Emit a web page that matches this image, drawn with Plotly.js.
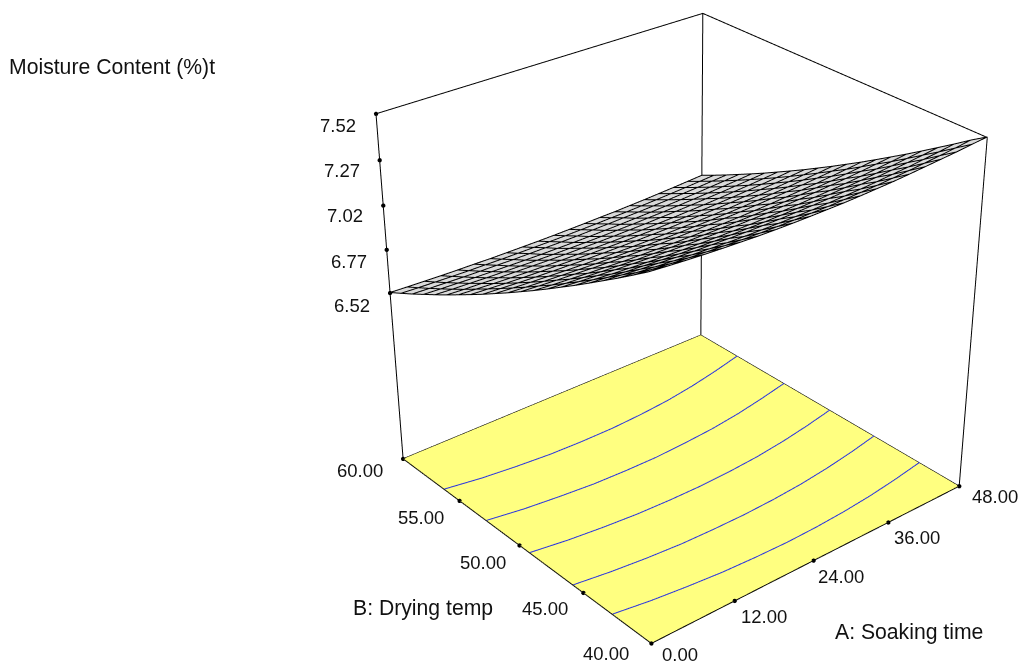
<!DOCTYPE html>
<html><head><script src="https://cdn.plot.ly/plotly-3.0.1.min.js"></script>
<style>html,body{margin:0;padding:0;overflow:hidden;background:#fff;width:1018px;height:663px}#g{position:absolute}</style></head>
<body><div id="g"></div>
<script>
var soaking=[0,2.4,4.8,7.2,9.6,12,14.4,16.8,19.2,21.6,24,26.4,28.8,31.2,33.6,36,38.4,40.8,43.2,45.6,48];
var drying=[40,41,42,43,44,45,46,47,48,49,50,51,52,53,54,55,56,57,58,59,60];
var z40=[7.500,7.492,7.485,7.479,7.474,7.470,7.466,7.464,7.463,7.463,7.464,7.465,7.468,7.472,7.476,7.482,7.489,7.496,7.503,7.512,7.520];
var z41=[7.441,7.433,7.426,7.420,7.415,7.411,7.407,7.405,7.404,7.404,7.405,7.406,7.409,7.413,7.417,7.423,7.430,7.437,7.446,7.455,7.466];
var z42=[7.383,7.375,7.368,7.362,7.357,7.353,7.349,7.347,7.346,7.346,7.347,7.348,7.351,7.355,7.359,7.365,7.372,7.379,7.388,7.397,7.408];
var z43=[7.327,7.320,7.313,7.308,7.303,7.299,7.297,7.295,7.294,7.294,7.294,7.296,7.299,7.302,7.307,7.312,7.318,7.325,7.333,7.342,7.352];
var z44=[7.271,7.264,7.257,7.252,7.247,7.243,7.241,7.239,7.238,7.238,7.238,7.240,7.243,7.246,7.251,7.256,7.262,7.269,7.277,7.286,7.296];
var z45=[7.216,7.209,7.202,7.197,7.192,7.188,7.186,7.184,7.183,7.183,7.183,7.185,7.188,7.191,7.196,7.201,7.207,7.214,7.222,7.231,7.241];
var z46=[7.163,7.156,7.151,7.146,7.142,7.138,7.136,7.134,7.133,7.133,7.134,7.136,7.138,7.142,7.146,7.151,7.157,7.163,7.171,7.179,7.188];
var z47=[7.110,7.103,7.098,7.093,7.089,7.085,7.083,7.081,7.080,7.080,7.081,7.083,7.085,7.089,7.093,7.098,7.104,7.110,7.118,7.126,7.135];
var z48=[7.058,7.051,7.046,7.041,7.037,7.033,7.031,7.029,7.028,7.028,7.029,7.031,7.033,7.037,7.041,7.046,7.052,7.058,7.066,7.074,7.083];
var z49=[7.008,7.002,6.997,6.993,6.989,6.986,6.984,6.983,6.982,6.982,6.983,6.985,6.987,6.990,6.994,6.999,7.004,7.010,7.017,7.025,7.033];
var z50=[6.958,6.952,6.947,6.943,6.939,6.936,6.934,6.933,6.932,6.932,6.933,6.935,6.937,6.940,6.944,6.949,6.954,6.960,6.967,6.975,6.983];
var z51=[6.910,6.904,6.899,6.895,6.891,6.888,6.886,6.885,6.884,6.884,6.885,6.887,6.889,6.892,6.896,6.901,6.906,6.912,6.919,6.927,6.935];
var z52=[6.862,6.857,6.852,6.848,6.845,6.843,6.841,6.840,6.840,6.840,6.841,6.842,6.845,6.847,6.851,6.855,6.860,6.866,6.872,6.879,6.887];
var z53=[6.816,6.811,6.806,6.802,6.799,6.797,6.795,6.794,6.794,6.794,6.795,6.796,6.799,6.801,6.805,6.809,6.814,6.820,6.826,6.833,6.841];
var z54=[6.771,6.766,6.761,6.757,6.754,6.752,6.750,6.749,6.749,6.749,6.750,6.751,6.754,6.756,6.760,6.764,6.769,6.775,6.781,6.788,6.796];
var z55=[6.726,6.721,6.718,6.714,6.712,6.710,6.708,6.707,6.707,6.707,6.708,6.710,6.712,6.715,6.718,6.722,6.727,6.732,6.738,6.744,6.751];
var z56=[6.683,6.678,6.675,6.671,6.669,6.667,6.665,6.664,6.664,6.664,6.665,6.667,6.669,6.672,6.675,6.679,6.684,6.689,6.695,6.701,6.708];
var z57=[6.641,6.636,6.633,6.629,6.627,6.625,6.623,6.622,6.622,6.622,6.623,6.625,6.627,6.630,6.633,6.637,6.642,6.647,6.653,6.659,6.666];
var z58=[6.599,6.595,6.592,6.589,6.587,6.586,6.584,6.584,6.584,6.584,6.585,6.587,6.589,6.592,6.594,6.598,6.602,6.607,6.612,6.618,6.624];
var z59=[6.559,6.555,6.552,6.549,6.547,6.546,6.544,6.544,6.544,6.544,6.545,6.547,6.549,6.552,6.554,6.558,6.562,6.567,6.572,6.578,6.584];
var z60=[6.520,6.516,6.513,6.510,6.508,6.507,6.505,6.505,6.505,6.505,6.506,6.508,6.510,6.513,6.515,6.519,6.523,6.528,6.533,6.539,6.545];
var Z=[z40,z41,z42,z43,z44,z45,z46,z47,z48,z49,z50,z51,z52,z53,z54,z55,z56,z57,z58,z59,z60];
var contourA=[0,4.8,9.6,14.4,19.2,24,28.8,33.6,38.4,43.2,48];
var contourB1=[56.30,55.92,55.67,55.48,55.41,55.41,55.52,55.71,56.02,56.42,56.89];
var contourB2=[52.70,52.33,52.08,51.88,51.80,51.78,51.88,52.03,52.29,52.64,53.05];
var contourB3=[49.16,48.82,48.58,48.40,48.32,48.30,48.37,48.51,48.75,49.07,49.45];
var contourB4=[45.76,45.45,45.22,45.06,45.00,44.99,45.06,45.20,45.43,45.73,46.10];
var contourB5=[42.80,42.47,42.23,42.04,41.94,41.89,41.93,42.04,42.22,42.48,42.79];
var aT=[0,12,24,36,48],bT=[40,45,50,55,60],zT=[6.52,6.77,7.02,7.27,7.52];
var zFloor=5.50356,zTop=7.52;
var W=1410.49,H=1798.70,left=0,top0=-498.49;
var g=document.getElementById('g');g.style.left=left+'px';g.style.top=top0+'px';g.style.width=W+'px';g.style.height=H+'px';
var flat={ambient:1,diffuse:0,specular:0,roughness:1,fresnel:0};
var LW=2;
function line(x,y,z,c,w){return{type:'scatter3d',mode:'lines',x:x,y:y,z:z,line:{color:c||'#000',width:w||LW},hoverinfo:'skip',showlegend:false}}
var meshX=[],meshY=[],meshZ=[],lift=.003;
drying.forEach(function(b,r){soaking.forEach(function(a,c){meshX.push(a);meshY.push(b);meshZ.push(Z[r][c]+lift)});meshX.push(null);meshY.push(null);meshZ.push(null)});
soaking.forEach(function(a,c){drying.forEach(function(b,r){meshX.push(a);meshY.push(b);meshZ.push(Z[r][c]+lift)});meshX.push(null);meshY.push(null);meshZ.push(null)});
var data=[
 {type:'surface',x:[0,48],y:[40,60],z:[[zFloor,zFloor],[zFloor,zFloor]],showscale:false,colorscale:[[0,'#FFFF80'],[1,'#FFFF80']],cmin:0,cmax:1,surfacecolor:[[0,0],[0,0]],lighting:flat,hoverinfo:'skip'},
 {type:'surface',x:soaking,y:drying,z:Z,showscale:false,colorscale:[[0,'#DADADA'],[1,'#DADADA']],lighting:flat,hoverinfo:'skip',contours:{x:{highlight:false},y:{highlight:false},z:{highlight:false}}},
 line(meshX,meshY,meshZ,'#000',2),
 line([0,0,48,48,0],[60,40,40,60,60],[zFloor,zFloor,zFloor,zFloor,zFloor]),
 line([0,0,48,48,48,48],[60,60,60,60,40,40],[zFloor,zTop,zTop,zFloor,zFloor,zTop]),
 line([48,48],[60,40],[zTop,zTop])
];
[contourB1,contourB2,contourB3,contourB4,contourB5].forEach(function(b){data.push(line(contourA,b,b.map(function(){return zFloor+.004}),'#2A35E0',2))});
var dx=[].concat(aT,bT.map(function(){return 0}),zT.map(function(){return 0}));
var dy=[].concat(aT.map(function(){return 40}),bT,zT.map(function(){return 60}));
var dz=[].concat(aT.map(function(){return zFloor}),bT.map(function(){return zFloor}),zT);
data.push({type:'scatter3d',mode:'markers',x:dx,y:dy,z:dz,marker:{size:2.5,color:'#000'},hoverinfo:'skip',showlegend:false});
var ann=[],tf={family:'"Liberation Sans",Arial,sans-serif',size:18.5,color:'#111'};
var aSx=[9,4,2,4,11],aSy=[-11,-16,-16,-15,-10],bSx=[-20,-13,-12,-14,-18],bSy=[-10,-16,-17,-17,-12],zSy=[-13,-12,-10,-10,-12];
aT.forEach(function(a,i){ann.push({x:a,y:40,z:zFloor,text:a.toFixed(2),showarrow:false,xanchor:'left',yanchor:'middle',xshift:aSx[i],yshift:aSy[i],font:tf})});
bT.forEach(function(b,i){ann.push({x:0,y:b,z:zFloor,text:b.toFixed(2),showarrow:false,xanchor:'right',yanchor:'middle',xshift:bSx[i],yshift:bSy[i],font:tf})});
zT.forEach(function(z,i){ann.push({x:0,y:60,z:z,text:z.toFixed(2),showarrow:false,xanchor:'right',yanchor:'middle',xshift:-18,yshift:zSy[i],font:tf})});
function pa(t,x,y){return{xref:'paper',yref:'paper',x:(x-left)/W,y:1-(y-top0)/H,text:t,showarrow:false,xanchor:'left',yanchor:'middle',font:{family:tf.family,size:21.2,color:'#111'}}}
var layout={width:W,height:H,margin:{l:0,r:0,t:0,b:0,pad:0},showlegend:false,paper_bgcolor:'#fff',
 annotations:[pa('Moisture Content (%)t',7,66),pa('B: Drying temp',351,607),pa('A: Soaking time',833,631)],
 scene:{domain:{x:[0,1],y:[0,1]},aspectmode:'manual',aspectratio:{x:1.13331,y:1.15372,z:1.09918},annotations:ann,dragmode:false,
 xaxis:{range:[-2,50],visible:false},yaxis:{range:[39,61],visible:false},zaxis:{range:[zFloor-.1,zTop+.1],visible:false},
 camera:{eye:{x:-3.09510,y:-3.70139,z:2.65580},center:{x:-0.00268,y:-0.10750,z:-0.22860},up:{x:-0.00717,y:0.00129,z:1},projection:{type:'perspective'}}}};
Plotly.newPlot(g,data,layout,{displayModeBar:false});
</script></body></html>
